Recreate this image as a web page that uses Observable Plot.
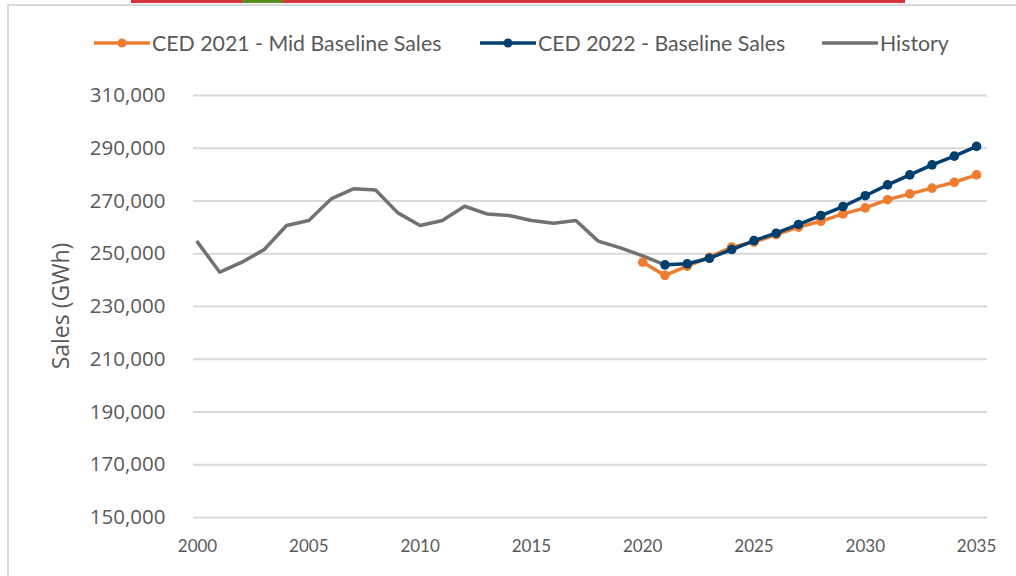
<!DOCTYPE html>
<html>
<head>
<meta charset="utf-8">
<script src="https://cdn.jsdelivr.net/npm/d3@7"></script>
<script src="https://cdn.jsdelivr.net/npm/@observablehq/plot@0.6"></script>
<style>
  html, body { margin: 0; padding: 0; background: #fff; }
  #wrap { position: relative; width: 1016px; height: 576px; overflow: hidden; background: #fff; }
  #frame { position: absolute; left: 7px; top: 4px; width: 1020px; height: 600px; border-left: 2px solid #d9d9d9; border-top: 2px solid #d9d9d9; }
  #topred { position: absolute; left: 131px; top: 0; width: 774px; height: 3px; background: #d8343c; }
  #topgreen { position: absolute; left: 242px; top: 0; width: 41px; height: 3px; background: #5b8c1f; }
  .leg { position: absolute; top: 30px; height: 26px; display: flex; align-items: center; font-family: Lato, "Open Sans", sans-serif; font-size: 21.3px; color: #595959; white-space: nowrap; }
  .leg svg { margin-right: 2px; }
  #ylab { position: absolute; left: 60px; top: 306px; transform: translate(-50%, -50%) rotate(-90deg); font-family: "Open Sans", sans-serif; font-size: 23px; color: #595959; white-space: nowrap; }
  #chart { position: absolute; left: 0; top: 60px; }
</style>
</head>
<body>
<div id="wrap">
  <div id="frame"></div>
  <div id="topred"></div>
  <div id="topgreen"></div>
  <div id="legend"></div>
  <div id="ylab">Sales (GWh)</div>
  <div id="chart"></div>
</div>
<script>
const historyYears = [2000,2001,2002,2003,2004,2005,2006,2007,2008,2009,2010,2011,2012,2013,2014,2015,2016,2017,2018,2019,2020,2021];
const historySales = [254400,243000,246800,251600,260700,262600,270800,274600,274200,265500,260700,262600,268000,265100,264500,262600,261600,262600,254800,252200,249200,245800];

const ced2021Years = [2020,2021,2022,2023,2024,2025,2026,2027,2028,2029,2030,2031,2032,2033,2034,2035];
const ced2021Sales = [246800,241800,245300,248700,252500,254400,257300,260100,262300,265100,267400,270500,272700,274900,277100,279900];

const ced2022Years = [2021,2022,2023,2024,2025,2026,2027,2028,2029,2030,2031,2032,2033,2034,2035];
const ced2022Sales = [245800,246200,248300,251600,255000,257800,261100,264500,267900,272000,276100,279900,283700,287000,290700];

const seriesNames = ["CED 2021 - Mid Baseline Sales", "CED 2022 - Baseline Sales", "History"];
const seriesColors = ["#ed7d31", "#003f6e", "#767171"];
const yTicks = [150000,170000,190000,210000,230000,250000,270000,290000,310000];
const xTicks = [2000,2005,2010,2015,2020,2025,2030,2035];

const hist = historyYears.map((x, i) => ({x, y: historySales[i]}));
const c21 = ced2021Years.map((x, i) => ({x, y: ced2021Sales[i]}));
const c22 = ced2022Years.map((x, i) => ({x, y: ced2022Sales[i]}));

// legend
const legPos = [94, 480, 822];
const legend = document.getElementById("legend");
seriesNames.forEach((name, i) => {
  const d = document.createElement("div");
  d.className = "leg";
  d.style.left = legPos[i] + "px";
  const marker = i < 2 ? `<circle cx="28" cy="8" r="4.5" fill="${seriesColors[i]}"/>` : "";
  d.innerHTML = `<svg width="56" height="16"><line x1="0" y1="8" x2="56" y2="8" stroke="${seriesColors[i]}" stroke-width="3.5"/>${marker}</svg><span>${name}</span>`;
  legend.appendChild(d);
});

const chart = Plot.plot({
  width: 1016,
  height: 500,
  marginLeft: 193,
  marginRight: 29,
  marginTop: 35,
  marginBottom: 43,
  x: {domain: [1999.82, 2035.49]},
  y: {domain: [150000, 310000]},
  marks: [
    Plot.ruleY(yTicks, {stroke: "#d9d9d9", strokeWidth: 2}),
    Plot.axisY({ticks: yTicks, tickFormat: d3.format(","), tickSize: 0, tickPadding: 28, label: null,
      fontSize: 20.5, fontFamily: "Open Sans, sans-serif", fill: "#595959"}),
    Plot.axisX({ticks: xTicks, tickFormat: d => String(d), tickSize: 0, tickPadding: 22, label: null,
      fontSize: 17, fontFamily: "Lato, sans-serif", fill: "#595959"}),
    Plot.line(hist, {x: "x", y: "y", stroke: seriesColors[2], strokeWidth: 3.5}),
    Plot.line(c21, {x: "x", y: "y", stroke: seriesColors[0], strokeWidth: 3.5}),
    Plot.dot(c21, {x: "x", y: "y", r: 4.8, fill: seriesColors[0]}),
    Plot.line(c22, {x: "x", y: "y", stroke: seriesColors[1], strokeWidth: 3.5}),
    Plot.dot(c22, {x: "x", y: "y", r: 4.8, fill: seriesColors[1]})
  ]
});
document.getElementById("chart").appendChild(chart);
</script>
</body>
</html>
